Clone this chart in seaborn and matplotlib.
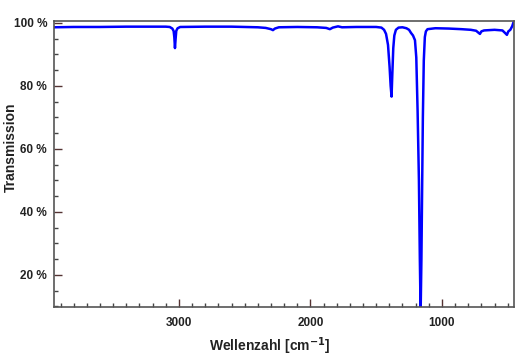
import matplotlib
matplotlib.use("Agg")
import matplotlib.pyplot as plt
import seaborn as sns
import pandas as pd
from matplotlib.ticker import MultipleLocator, FuncFormatter

# IR spectrum (wavenumber in cm-1, transmission in %)
wellenzahl = [3950, 3800, 3600, 3400, 3200, 3100, 3070, 3050, 3040, 3035, 3030,
              3025, 3020, 3010, 2990, 2800, 2600, 2400, 2340, 2300, 2285, 2270,
              2240, 2100, 1950, 1880, 1852, 1830, 1790, 1760, 1650, 1500, 1460,
              1440, 1425, 1410, 1398, 1390, 1383, 1377, 1370, 1362, 1350, 1330,
              1300, 1270, 1250, 1235, 1220, 1205, 1195, 1185, 1175, 1168, 1162,
              1156, 1150, 1145, 1138, 1130, 1122, 1110, 1050, 950, 850, 780, 740,
              720, 711, 700, 680, 600, 540, 520, 506, 495, 480, 465, 455, 452]
transmission = [98.6, 98.7, 98.7, 98.8, 98.8, 98.8, 98.7, 98.2, 97.4, 95.5, 92.0,
                95.0, 97.5, 98.3, 98.7, 98.8, 98.8, 98.6, 98.4, 98.0, 97.7, 98.2,
                98.6, 98.7, 98.6, 98.4, 98.0, 98.5, 98.9, 98.6, 98.7, 98.7, 98.5,
                97.8, 96.5, 93.0, 86.0, 80.0, 76.6, 84.0, 92.0, 96.0, 97.8, 98.5,
                98.6, 98.3, 97.8, 96.8, 96.0, 94.5, 89.0, 72.0, 50.0, 25.0, 8.0,
                25.0, 50.0, 70.0, 88.0, 95.5, 97.3, 98.0, 98.3, 98.2, 98.0, 97.8, 97.5,
                96.8, 96.5, 97.3, 97.6, 97.8, 97.6, 96.8, 96.2, 97.3, 97.8, 99.0, 100.3, 100.5]

df = pd.DataFrame({"wn": wellenzahl, "T": transmission})

sns.set_theme(style="ticks")
plt.rcParams["font.family"] = ["Liberation Sans", "DejaVu Sans"]

fig = plt.figure(figsize=(5.17, 3.6), dpi=100)
ax = fig.add_axes([0.1044, 0.147, 0.8898, 0.7947])

sns.lineplot(data=df, x="wn", y="T", sort=False, color="#0000ff",
             linewidth=1.8, ax=ax)

ax.set_xlim(3950, 452)
ax.set_ylim(9.8, 100.6)

ax.xaxis.set_major_locator(MultipleLocator(1000))
ax.xaxis.set_minor_locator(MultipleLocator(100))
ax.yaxis.set_major_locator(MultipleLocator(20))
ax.yaxis.set_minor_locator(MultipleLocator(5))
ax.yaxis.set_major_formatter(FuncFormatter(lambda v, p: f"{v:.0f} %"))

ax.tick_params(axis="both", which="major", direction="in", length=5.8,
               width=1.0, color="#553333", labelsize=8.5, pad=5)
ax.tick_params(axis="both", which="minor", direction="in", length=3,
               width=1.0, color="#444444")
ax.tick_params(axis="x", which="major", pad=7)
for lab in ax.get_xticklabels() + ax.get_yticklabels():
    lab.set_fontweight("bold")
    lab.set_color("#222222")

for side in ["left", "bottom", "top", "right"]:
    ax.spines[side].set_color("#555555")
    ax.spines[side].set_linewidth(1.2)

ax.set_xlabel("Wellenzahl [cm$^{\\mathbf{-1}}$]", fontsize=10, fontweight="bold",
              color="#222222")
ax.set_ylabel("Transmission", fontsize=10, fontweight="bold", color="#222222")
ax.xaxis.set_label_coords(0.47, -0.1)
ax.yaxis.set_label_coords(-0.078, 0.56)

fig.savefig("out.png", dpi=100)
